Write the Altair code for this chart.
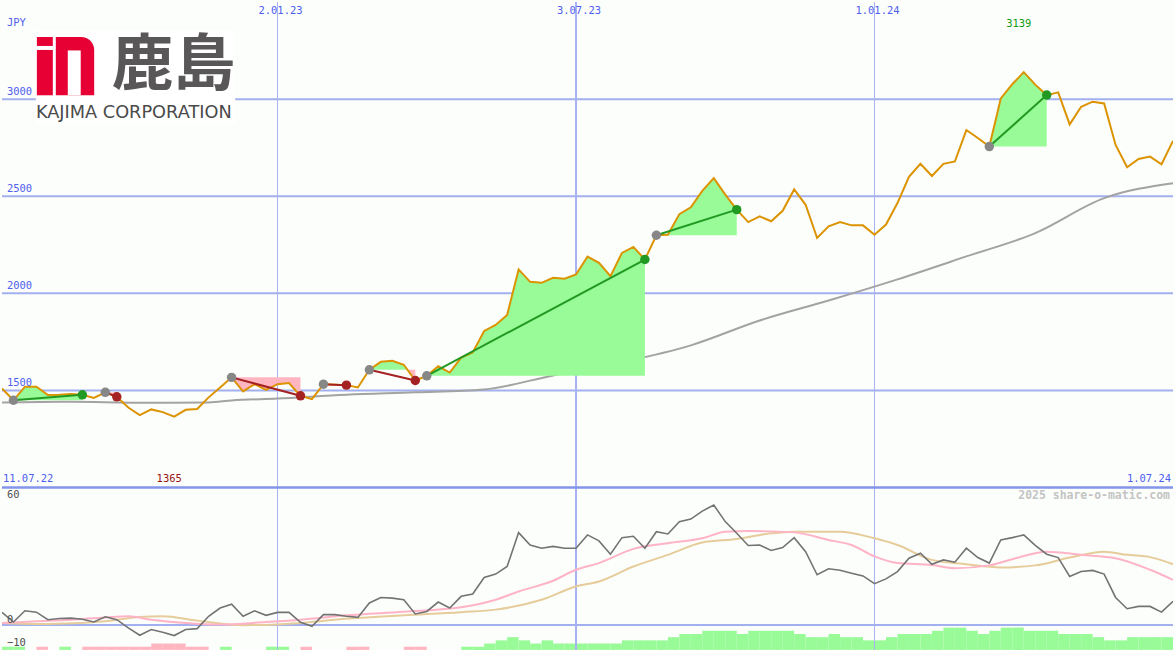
import altair as alt
import pandas as pd

# ---------------------------------------------------------------------------
# Kajima Corp. (1812.T), weekly closes in JPY, 18.07.22 .. 1.07.24 (103 weeks)
# ---------------------------------------------------------------------------
price = [
    1510, 1449, 1519, 1519, 1476, 1477, 1481, 1477, 1461, 1490,
    1467, 1412, 1373, 1402, 1388, 1365, 1400, 1404, 1464, 1515,
    1567, 1495, 1532, 1503, 1532, 1538, 1472, 1455, 1532, 1529,
    1527, 1515, 1606, 1647, 1652, 1632, 1551, 1575, 1624, 1592,
    1669, 1695, 1806, 1837, 1888, 2123, 2059, 2054, 2080, 2075,
    2097, 2189, 2157, 2088, 2208, 2239, 2174, 2299, 2302, 2408,
    2443, 2528, 2593, 2508, 2431, 2367, 2396, 2371, 2425, 2535,
    2456, 2285, 2345, 2367, 2350, 2350, 2302, 2354, 2465, 2600,
    2667, 2604, 2667, 2679, 2841, 2800, 2756, 3004, 3077, 3139,
    3075, 3021, 3035, 2870, 2961, 2987, 2978, 2764, 2649, 2692,
    2704, 2665, 2785,
]

# long moving average of the close
ma_weeks = [0, 6, 12, 18, 20, 24, 30, 36, 42, 48, 54, 60, 66, 72, 78, 84, 90, 96, 102]
ma_values = [1438, 1441, 1436, 1438, 1448, 1458, 1478, 1490, 1505, 1577,
             1645, 1732, 1860, 1963, 2072, 2190, 2310, 2490, 2567]

# trades: (entry week, exit week)
trades = [(1, 7), (9, 10), (20, 26), (28, 30), (32, 36), (37, 56), (57, 64), (86, 91)]

# oscillator (lower panel)
osc = [
    5.5, 1.3, 6.2, 5.6, 2.3, 2.8, 3.0, 2.5, 1.3, 3.6,
    2.3, -1.3, -4.5, -2.0, -3.2, -4.6, -2.0, -1.6, 3.8, 7.4,
    9.1, 3.8, 6.2, 4.2, 5.5, 5.5, 1.2, -0.6, 4.5, 4.5,
    3.8, 3.3, 9.6, 12.0, 11.7, 11.0, 4.8, 5.9, 10.0, 7.4,
    12.5, 13.5, 20.7, 22.2, 25.5, 40.3, 34.9, 33.5, 34.3, 33.5,
    33.5, 39.3, 36.7, 30.9, 38.1, 38.7, 33.5, 40.7, 39.7, 45.1,
    46.2, 49.7, 52.3, 45.1, 40.0, 34.7, 34.9, 32.5, 33.8, 38.1,
    32.0, 21.9, 24.5, 23.9, 22.6, 21.4, 18.0, 20.1, 23.3, 29.1,
    31.3, 26.5, 28.4, 27.4, 33.5, 29.4, 27.0, 37.1, 38.1, 39.3,
    34.7, 30.9, 29.4, 21.2, 23.3, 23.8, 22.2, 12.0, 7.1, 8.1,
    8.1, 5.6, 10.3,
]
fast_weeks = [0, 3, 6, 9, 11, 13, 16, 19, 23, 26, 30, 35, 40, 43, 45, 48, 50, 52, 55,
              58, 61, 63, 65, 69, 72, 74, 76, 78, 81, 83, 86, 88, 91, 94, 97, 100, 102]
fast_values = [0.9, 1.6, 2.3, 3.3, 3.8, 2.3, 0.9, 0.2, 1.3, 2.3, 4.2, 5.8, 7.7, 11.0, 14.6,
               19.3, 24.1, 27.0, 33.2, 35.7, 37.8, 40.7, 41.0, 40.4, 37.1, 34.9, 29.9, 27.0,
               26.2, 24.8, 26.0, 28.7, 32.0, 30.6, 29.1, 24.1, 19.7]
slow_weeks = [0, 4, 9, 12, 14, 17, 21, 26, 29, 35, 40, 43, 47, 50, 52, 55, 58, 61, 64,
              67, 69, 73, 76, 78, 81, 84, 87, 90, 93, 96, 98, 100, 102]
slow_values = [0.9, 0.4, 1.6, 3.5, 3.8, 1.9, -0.1, 0.9, 2.3, 4.2, 5.6, 6.7, 11.0, 16.8,
               19.0, 25.5, 30.6, 36.0, 37.5, 40.0, 40.7, 40.7, 37.8, 34.9, 28.4, 26.5,
               25.1, 26.0, 29.4, 32.0, 30.6, 29.6, 26.5]

# weekly signal strength (positive = bullish, negative = bearish)
signal = [
    1, 1, 0, -1, 0, 1, 0, -1, -1, -1,
    -1, -1, -1, -2, -2, -2, -1, -1, 0, 1,
    0, 0, 0, 1, 1, 0, -1, 0, 0, 0,
    -1, -1, 0, 0, 0, -1, -1, 0, 0, 0,
    1, 1, 2, 3, 4, 3, 2, 3, 2, 2,
    2, 2, 2, 2, 3, 3, 3, 3, 4, 5,
    5, 6, 6, 6, 5, 6, 6, 6, 6, 5,
    4, 4, 5, 4, 4, 3, 3, 4, 5, 5,
    5, 6, 7, 7, 6, 5, 6, 7, 7, 6,
    6, 6, 5, 5, 5, 4, 3, 3, 4, 4,
    4, 4,
]

price_ticks = [1500, 2000, 2500, 3000]
date_weeks = [24, 50, 76]
date_labels = ["2.01.23", "3.07.23", "1.01.24"]
first_date, last_date = "11.07.22", "1.07.24"
osc_ticks = [60, 0, -10]

# ---------------------------------------------------------------------------
W, H_TOP, H_LOW = 1175, 487, 163
BG = "#fcfefc"
GRID = "#a3b0f0"
VGRID = "#a8b2f2"
BLUE_TXT = "#5060ee"
MONO = "DejaVu Sans Mono"
WIN, LOSS, ENTRY = "#229922", "#a52222", "#878787"
GAIN_FILL, LOSS_FILL = "#98fb98", "#ffb6c1"

n_weeks = len(price) - 1
xscale = alt.Scale(domain=[0, n_weeks], nice=False, zero=False)
yprice = alt.Scale(domain=[1000, 3500], nice=False, zero=False)
yosc = alt.Scale(domain=[-10.87, 60], nice=False, zero=False)

px = pd.DataFrame({"week": list(range(len(price))), "price": price})
ma = pd.DataFrame({"week": ma_weeks, "ma": ma_values})

# trade segments, markers and the filled excursions around the entry level
seg_rows, dot_rows, fill_rows = [], [], []
for k, (s, e) in enumerate(trades):
    level = price[s]
    col = WIN if price[e] > level else LOSS
    seg_rows += [{"trade": k, "week": s, "price": price[s], "col": col},
                 {"trade": k, "week": e, "price": price[e], "col": col}]
    dot_rows += [{"week": s, "price": price[s], "col": ENTRY},
                 {"week": e, "price": price[e], "col": col}]
    pts = []
    for i in range(s, e):
        p0, p1 = price[i], price[i + 1]
        pts.append((i, p0))
        if (p0 - level) * (p1 - level) < 0:
            t = (level - p0) / (p1 - p0)
            pts.append((i + t, level))
    pts.append((e, price[e]))
    for w, p in pts:
        fill_rows.append({"trade": k, "week": w, "level": level,
                          "above": max(p, level), "below": min(p, level)})
segs = pd.DataFrame(seg_rows)
dots = pd.DataFrame(dot_rows)
fills = pd.DataFrame(fill_rows)

X = alt.X("week:Q", scale=xscale, axis=None)
YP = alt.Y("price:Q", scale=yprice, axis=None)

hgrid = alt.Chart(pd.DataFrame({"p": price_ticks})).mark_rule(
    color=GRID, strokeWidth=2).encode(y=alt.Y("p:Q", scale=yprice, axis=None))

# the mid-period date line is drawn a little heavier
vgrid_df = pd.DataFrame({"week": date_weeks, "label": date_labels,
                         "sw": [1.0 if i != 1 else 2.0 for i in range(len(date_weeks))]})
vgrid = alt.Chart(vgrid_df).mark_rule(color=VGRID).encode(
    x=X, strokeWidth=alt.StrokeWidth("sw:Q", scale=None))

ma_line = alt.Chart(ma).mark_line(color="#a3a3a3", strokeWidth=2, clip=True,
                                  interpolate="monotone").encode(
    x=X, y=alt.Y("ma:Q", scale=yprice, axis=None))

gain_area = alt.Chart(fills).mark_area(color=GAIN_FILL, opacity=1, interpolate="linear").encode(
    x=X, y=alt.Y("above:Q", scale=yprice, axis=None, stack=None), y2="level:Q", detail="trade:N")
loss_area = alt.Chart(fills).mark_area(color=LOSS_FILL, opacity=1, interpolate="linear").encode(
    x=X, y=alt.Y("below:Q", scale=yprice, axis=None, stack=None), y2="level:Q", detail="trade:N")

price_line = alt.Chart(px).mark_line(color="#dc9300", strokeWidth=2, clip=True).encode(x=X, y=YP)

trade_lines = alt.Chart(segs).mark_line(strokeWidth=2).encode(
    x=X, y=YP, detail="trade:N", color=alt.Color("col:N", scale=None))

trade_dots = alt.Chart(dots).mark_circle(size=90, opacity=1).encode(
    x=X, y=YP, color=alt.Color("col:N", scale=None))

price_labels = alt.Chart(pd.DataFrame({"p": price_ticks})).mark_text(
    align="left", baseline="alphabetic", dx=5, dy=-4, font=MONO, fontSize=10.5,
    color=BLUE_TXT).encode(x=alt.value(0), y=alt.Y("p:Q", scale=yprice, axis=None), text="p:Q")

unit_label = alt.Chart(pd.DataFrame({"t": ["JPY"]})).mark_text(
    align="left", baseline="middle", font=MONO, fontSize=10.5, color=BLUE_TXT).encode(
    x=alt.value(5), y=alt.value(21), text="t:N")

date_text = alt.Chart(vgrid_df).mark_text(
    align="center", baseline="middle", dx=3, font=MONO, fontSize=10.5, color=BLUE_TXT).encode(
    x=X, y=alt.value(9), text="label:N")

first_text = alt.Chart(pd.DataFrame({"t": [first_date]})).mark_text(
    align="left", baseline="middle", font=MONO, fontSize=10.5, color=BLUE_TXT).encode(
    x=alt.value(1), y=alt.value(479), text="t:N")
last_text = alt.Chart(pd.DataFrame({"t": [last_date]})).mark_text(
    align="right", baseline="middle", font=MONO, fontSize=10.5, color=BLUE_TXT).encode(
    x=alt.value(1173), y=alt.value(479), text="t:N")

i_max = max(range(len(price)), key=lambda i: price[i])
i_min = min(range(len(price)), key=lambda i: price[i])
hi_text = alt.Chart(px.iloc[[i_max]]).mark_text(
    align="center", baseline="middle", dx=-5, font=MONO, fontSize=10.5, color="#119911").encode(
    x=X, y=alt.value(22), text="price:Q")
lo_text = alt.Chart(px.iloc[[i_min]]).mark_text(
    align="center", baseline="middle", dx=-5, font=MONO, fontSize=10.5, color="#991111").encode(
    x=X, y=alt.value(479), text="price:Q")

# company emblem, top left
emblem = pd.DataFrame({
    "part": ["backdrop", "dot", "stem"],
    "x0": [34, 35, 35], "x1": [234, 51, 51],
    "y0": [28, 35, 48], "y1": [121, 44, 93.5],
    "fill": ["#ffffff", "#e60033", "#e60033"],
})
emblem_rects = alt.Chart(emblem).mark_rect().encode(
    x=alt.X("x0:Q", scale=None), x2="x1:Q", y=alt.Y("y0:Q", scale=None), y2="y1:Q",
    color=alt.Color("fill:N", scale=None))
arch = alt.Chart(pd.DataFrame({"a": [0]})).mark_rect(
    color="#e60033", cornerRadiusTopRight=13).encode(
    x=alt.value(54), x2=alt.value(92.5), y=alt.value(35), y2=alt.value(93.5))
arch_gap = alt.Chart(pd.DataFrame({"a": [0]})).mark_rect(color="#ffffff").encode(
    x=alt.value(66), x2=alt.value(79), y=alt.value(48.5), y2=alt.value(93.5))
kanji = alt.Chart(pd.DataFrame({"t": ["鹿島"]})).mark_text(
    font="Noto Sans CJK JP", fontWeight="bold", fontSize=62, color="#595757",
    align="center", baseline="middle").encode(x=alt.value(172), y=alt.value(64), text="t:N")
corp = alt.Chart(pd.DataFrame({"t": ["KAJIMA CORPORATION"]})).mark_text(
    font="DejaVu Sans", fontSize=17.8, color="#4a4a4a", align="left",
    baseline="alphabetic").encode(x=alt.value(34), y=alt.value(116), text="t:N")

upper = alt.layer(
    hgrid, vgrid, ma_line, gain_area, loss_area, price_line, trade_lines, trade_dots,
    price_labels, unit_label, date_text, first_text, last_text, hi_text, lo_text,
    emblem_rects, arch, arch_gap, kanji, corp,
).properties(width=W, height=H_TOP)

# ---------------------------------------------------------------------------
# lower panel: oscillator with two smoothings and the weekly signal bars
# ---------------------------------------------------------------------------
bars = pd.DataFrame({
    "week": list(range(len(signal))),
    "week_end": [w + 1 for w in range(len(signal))],
    "strength": [abs(v) for v in signal],
    "col": [GAIN_FILL if v > 0 else LOSS_FILL for v in signal],
})
bars = bars[bars["strength"] > 0]

signal_bars = alt.Chart(bars).mark_rect().encode(
    x=X, x2="week_end:Q",
    y=alt.Y("strength:Q", scale=alt.Scale(domain=[0, 51], nice=False), axis=None),
    y2=alt.datum(0),
    color=alt.Color("col:N", scale=None))

YO = alt.Y("v:Q", scale=yosc, axis=None)
zero_rule = alt.Chart(pd.DataFrame({"v": [0]})).mark_rule(color=GRID, strokeWidth=2).encode(y=YO)
top_rule = alt.Chart(pd.DataFrame({"v": [60]})).mark_rule(color="#8494ea", strokeWidth=2.5).encode(y=YO)
vgrid_low = alt.Chart(vgrid_df).mark_rule(color=VGRID).encode(
    x=X, strokeWidth=alt.StrokeWidth("sw:Q", scale=None))

slow_line = alt.Chart(pd.DataFrame({"week": slow_weeks, "v": slow_values})).mark_line(
    color="#e6cc9a", strokeWidth=2, clip=True, interpolate="monotone").encode(x=X, y=YO)
fast_line = alt.Chart(pd.DataFrame({"week": fast_weeks, "v": fast_values})).mark_line(
    color="#ffb3c6", strokeWidth=2, clip=True, interpolate="monotone").encode(x=X, y=YO)
osc_line = alt.Chart(pd.DataFrame({"week": list(range(len(osc))), "v": osc})).mark_line(
    color="#737373", strokeWidth=1.6, clip=True).encode(x=X, y=YO)

tick_df = pd.DataFrame({"v": osc_ticks})
osc_labels_top = alt.Chart(tick_df[tick_df["v"] == osc_ticks[0]]).mark_text(
    align="left", baseline="top", font=MONO, fontSize=10.5, color="#505050").encode(
    x=alt.value(5), y=alt.value(3), text="v:Q")
osc_labels = alt.Chart(tick_df[tick_df["v"] != osc_ticks[0]]).mark_text(
    align="left", baseline="alphabetic", dy=-2, font=MONO, fontSize=10.5, color="#505050").encode(
    x=alt.value(5), y=YO, text="v:Q")
credit = alt.Chart(pd.DataFrame({"t": ["2025 share-o-matic.com"]})).mark_text(
    align="right", baseline="middle", font=MONO, fontSize=11.5, fontWeight="bold",
    color="#c4c4c4").encode(x=alt.value(1172), y=alt.value(9), text="t:N")

osc_layers = alt.layer(zero_rule, vgrid_low, slow_line, fast_line, osc_line,
                       osc_labels_top, osc_labels, credit, top_rule)
lower = alt.layer(signal_bars, osc_layers).resolve_scale(y="independent").properties(
    width=W, height=H_LOW)

chart = alt.vconcat(upper, lower, spacing=0, bounds="flush").properties(
    padding=0, background=BG
).configure_view(stroke=None)

chart.save("out.html", embed_options={"renderer": "svg", "actions": False})
